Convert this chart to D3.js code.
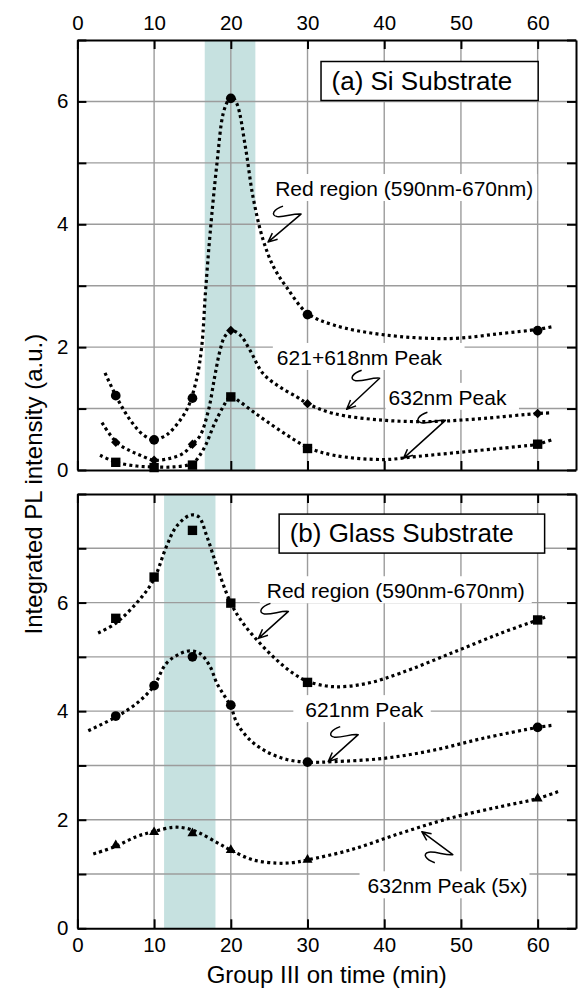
<!DOCTYPE html>
<html><head><meta charset="utf-8">
<script src="https://cdn.jsdelivr.net/npm/d3@7"></script>
<style>
body{margin:0;background:#fff}
text{font-family:"Liberation Sans",Arial,Helvetica,sans-serif;fill:#000}
</style>
</head><body>
<svg id="chart" width="578" height="991"></svg>
<script>
// ---------------- data ----------------
const times = [5, 10, 15, 20, 30, 60];
const xTicks = [0, 10, 20, 30, 40, 50, 60];

// (a) Si substrate
const siRed = [1.21, 0.49, 1.17, 6.05, 2.53, 2.27];
const si621 = [0.45, 0.16, 0.42, 2.27, 1.08, 0.92];
const si632 = [0.125, 0.04, 0.08, 1.19, 0.35, 0.42];
// (b) Glass substrate
const glRed = [5.71, 6.47, 7.33, 5.99, 4.53, 5.68];
const gl621 = [3.91, 4.47, 5.00, 4.11, 3.06, 3.70];
const gl632 = [1.53, 1.77, 1.75, 1.44, 1.26, 2.39];

// fitted guide curves
const siRedFitX = [3.6, 5.3, 6.9, 8.6, 10, 11.2, 12.1, 14.25, 15.5, 16.2, 16.7, 17.3, 18.2, 19.0, 19.7, 20.1, 20.8, 21.9, 22.9, 24.2, 25.6, 27.3, 30, 33.4, 40, 48.6, 55.1, 60, 61.8];
const siRedFitY = [1.58, 1.14, 0.81, 0.57, 0.49, 0.54, 0.62, 0.98, 1.46, 2.0, 2.9, 3.85, 5.0, 5.8, 6.03, 6.08, 5.96, 5.26, 4.44, 3.75, 3.3, 2.97, 2.55, 2.36, 2.20, 2.14, 2.22, 2.29, 2.33];
const si621FitX = [3.2, 5.1, 6.9, 8.2, 10, 12.1, 13.8, 15.0, 16.0, 17.1, 17.9, 18.6, 19.2, 20.07, 21.2, 22.5, 24.2, 26.4, 28.6, 30, 33.4, 39.9, 46.4, 52.9, 60, 61.6];
const si621FitY = [0.77, 0.45, 0.31, 0.24, 0.16, 0.19, 0.27, 0.42, 0.56, 0.98, 1.52, 1.95, 2.17, 2.27, 2.20, 1.95, 1.57, 1.35, 1.19, 1.08, 0.92, 0.81, 0.79, 0.84, 0.92, 0.93];
const si632FitX = [2.95, 5.1, 7.7, 10, 12.5, 15.0, 16.4, 17.9, 19.0, 19.7, 20.1, 21.2, 22.9, 24.7, 27.3, 30, 33.4, 39.9, 44.2, 50.8, 57.3, 60, 61.8];
const si632FitY = [0.24, 0.125, 0.065, 0.05, 0.05, 0.11, 0.33, 0.76, 1.03, 1.17, 1.20, 1.11, 0.95, 0.79, 0.57, 0.37, 0.24, 0.17, 0.22, 0.30, 0.38, 0.42, 0.49];
const glRedFitX = [2.7, 5.0, 7.7, 9.9, 11.6, 12.9, 14.7, 15.8, 16.9, 18.2, 20, 21.6, 23.8, 26, 28.1, 30, 33.4, 37.7, 42.1, 48.6, 55.1, 60, 61.2];
const glRedFitY = [5.44, 5.62, 5.99, 6.41, 7.03, 7.40, 7.61, 7.58, 7.21, 6.66, 5.99, 5.62, 5.25, 4.94, 4.70, 4.55, 4.45, 4.51, 4.70, 5.06, 5.43, 5.68, 5.74];
const gl621FitX = [1.42, 5, 7.7, 9.9, 11.6, 13.4, 14.7, 16.0, 17.3, 18.2, 20, 20.8, 22.5, 24.7, 27.3, 30, 33.4, 39.9, 46.4, 52.9, 60, 62.0];
const gl621FitY = [3.64, 3.89, 4.14, 4.45, 4.88, 5.06, 5.11, 5.06, 4.82, 4.51, 4.08, 3.78, 3.47, 3.25, 3.11, 3.06, 3.07, 3.13, 3.28, 3.50, 3.70, 3.74];
const gl632FitX = [2.07, 5, 7.7, 9.9, 12.5, 14.25, 16.0, 18.2, 20, 22.9, 26, 28.1, 30, 35.5, 42.1, 48.6, 55.1, 60, 62.7];
const gl632FitY = [1.37, 1.51, 1.69, 1.78, 1.86, 1.84, 1.75, 1.58, 1.44, 1.26, 1.20, 1.21, 1.26, 1.44, 1.75, 2.03, 2.24, 2.39, 2.52];

// highlighted time windows
const bandA = [16.6, 23.2];
const bandB = [11.3, 18.0];

// labels
const titleA = "(a) Si Substrate";
const titleB = "(b) Glass Substrate";
const xTitle = "Group III on time (min)";
const yTitle = "Integrated PL intensity (a.u.)";
const annoTextA = ["Red region (590nm-670nm)", "621+618nm Peak", "632nm Peak"];
const annoTextB = ["Red region (590nm-670nm)", "621nm Peak", "632nm Peak (5x)"];

// ---------------- layout ----------------
const svg = d3.select("#chart");
const FONT = '"Liberation Sans", Arial, Helvetica, sans-serif';
const x = d3.scaleLinear().domain([0, 65]).range([77.4, 576]);
const yA = d3.scaleLinear().domain([0, 7]).range([470, 40]);
const yB = d3.scaleLinear().domain([0, 8]).range([928.3, 494]);

const sym = {
  circle: d3.symbol().type(d3.symbolCircle).size(74),
  square: d3.symbol().type(d3.symbolSquare).size(88),
  diamond: d3.symbol().type(d3.symbolSquare).size(44),
  triangle: d3.symbol().type(d3.symbolTriangle).size(44)
};

function drawPanel(cfg) {
  const y = cfg.y;
  const g = svg.append("g");
  const [x0, x1] = x.range();
  const [yb, yt] = y.range();
  const gBand = g.append("g"), gGrid = g.append("g"), gBg = g.append("g"),
        gCurve = g.append("g"), gMark = g.append("g"), gAnno = g.append("g"), gAxis = g.append("g");

  // band
  gBand.append("rect")
    .attr("x", x(cfg.band[0])).attr("width", x(cfg.band[1]) - x(cfg.band[0]))
    .attr("y", yt).attr("height", yb - yt).attr("fill", "#c6e1e0");

  // grid
  const yMax = y.domain()[1];
  gGrid.selectAll("line.v").data(xTicks.slice(1)).join("line")
    .attr("x1", d => x(d)).attr("x2", d => x(d)).attr("y1", yt).attr("y2", yb)
    .attr("stroke", "#9c9c9c").attr("stroke-width", 1.4);
  gGrid.selectAll("line.h").data(d3.range(1, yMax)).join("line")
    .attr("y1", d => y(d)).attr("y2", d => y(d)).attr("x1", x0).attr("x2", x1)
    .attr("stroke", "#9c9c9c").attr("stroke-width", 1.4);

  // curves
  const line = d3.line().x(d => x(d[0])).y(d => y(d[1])).curve(d3.curveCatmullRom.alpha(0.5));
  cfg.series.forEach(s => {
    const pts = d3.zip(s.fx, s.fy);
    gCurve.append("path").attr("d", line(pts)).attr("fill", "none")
      .attr("stroke", "#000").attr("stroke-width", 3.2).attr("stroke-dasharray", "3,3.2");
    gMark.selectAll(null).data(d3.zip(times, s.v)).join("path")
      .attr("d", sym[s.shape])
      .attr("transform", d => `translate(${x(d[0])},${y(d[1])})` + (s.shape === "diamond" ? " rotate(45)" : ""))
      .attr("fill", "#000");
  });

  // annotations
  cfg.annos.forEach(a => {
    const t = gAnno.append("text").attr("x", x(a.x)).attr("y", y(a.y))
      .attr("text-anchor", "middle").attr("font-size", 21).attr("font-family", FONT).text(a.text);
    const bb = t.node().getBBox();
    gBg.append("rect").attr("x", bb.x - a.pl).attr("y", bb.y - 3)
      .attr("width", bb.width + a.pl + a.pr).attr("height", bb.height + 4).attr("fill", "#fff");
    const tip = [x(a.tx), y(a.ty)];
    const R = [tip[0] + a.rx, tip[1] + a.ry];
    const s = a.flip ? -1 : 1;
    const p = d3.path();
    p.moveTo(R[0] - 18, R[1] - 8 * s);
    p.bezierCurveTo(R[0] - 27, R[1] - 5 * s, R[0] - 31, R[1] + 1 * s, R[0] - 24, R[1] + 2.5 * s);
    p.bezierCurveTo(R[0] - 17, R[1] + 3.5 * s, R[0] - 7, R[1] - 1 * s, R[0], R[1]);
    p.lineTo(tip[0], tip[1]);
    const th = Math.atan2(R[1] - tip[1], R[0] - tip[0]);
    p.moveTo(tip[0] + 10 * Math.cos(th + 0.42), tip[1] + 10 * Math.sin(th + 0.42));
    p.lineTo(tip[0], tip[1]);
    p.lineTo(tip[0] + 10 * Math.cos(th - 0.42), tip[1] + 10 * Math.sin(th - 0.42));
    gAnno.append("path").attr("d", p.toString()).attr("fill", "none")
      .attr("stroke", "#000").attr("stroke-width", 1.5).attr("stroke-linejoin", "round");
  });

  // title box
  const tb = gAnno.append("text").attr("x", x(cfg.title.x) + 10.5).attr("y", y(cfg.title.y) + 28.3)
    .attr("font-size", 26).attr("font-family", FONT).text(cfg.title.text);
  const b = tb.node().getBBox();
  gAnno.insert("rect", "text").attr("x", x(cfg.title.x)).attr("y", y(cfg.title.y))
    .attr("width", b.width + 10.5 + cfg.title.pr).attr("height", 39)
    .attr("fill", "#fff").attr("stroke", "#000").attr("stroke-width", 1.5);

  // axes
  const styleAxis = sel => {
    sel.select(".domain").attr("stroke", "#000").attr("stroke-width", 2);
    sel.selectAll(".tick line").attr("stroke", "#000").attr("stroke-width", 2);
    sel.selectAll(".tick text").attr("font-size", 20.5).attr("font-family", FONT).attr("fill", "#000");
  };
  const yVals = d3.range(0, yMax + 1);
  const yLab = d => (d % 2 === 0 && d < yMax) ? d : "";
  gAxis.append("g").attr("transform", `translate(${x0},0)`)
    .call(d3.axisLeft(y).tickValues(yVals).tickSize(-9).tickSizeOuter(0).tickPadding(9).tickFormat(yLab)).call(styleAxis);
  gAxis.append("g").attr("transform", `translate(${x1},0)`)
    .call(d3.axisRight(y).tickValues(yVals).tickSize(-9).tickSizeOuter(0).tickFormat("")).call(styleAxis);
  gAxis.append("g").attr("transform", `translate(0,${yt})`)
    .call(d3.axisTop(x).tickValues(xTicks).tickSize(-9).tickSizeOuter(0).tickPadding(10)
      .tickFormat(cfg.topLabels ? d3.format("d") : "")).call(styleAxis);
  gAxis.append("g").attr("transform", `translate(0,${yb})`)
    .call(d3.axisBottom(x).tickValues(xTicks).tickSize(-9).tickSizeOuter(0).tickPadding(9)
      .tickFormat(cfg.bottomLabels ? d3.format("d") : "")).call(styleAxis);
}

drawPanel({
  y: yA, band: bandA, topLabels: true, bottomLabels: false,
  title: { text: titleA, x: 31.76, y: 6.65, pr: 26 },
  series: [
    { v: siRed, fx: siRedFitX, fy: siRedFitY, shape: "circle" },
    { v: si621, fx: si621FitX, fy: si621FitY, shape: "diamond" },
    { v: si632, fx: si632FitX, fy: si632FitY, shape: "square" }
  ],
  annos: [
    { text: annoTextA[0], x: 42.6, y: 4.46, tx: 24.85, ty: 3.71, rx: 33, ry: -28, pl: 4, pr: 4 },
    { text: annoTextA[1], x: 36.77, y: 1.71, tx: 35.1, ty: 0.99, rx: 33, ry: -31, pl: 4, pr: 22 },
    { text: annoTextA[2], x: 48.25, y: 1.06, tx: 42.5, ty: 0.19, rx: 42, ry: -38, pl: 3, pr: 12 }
  ]
});

drawPanel({
  y: yB, band: bandB, topLabels: false, bottomLabels: true,
  title: { text: titleB, x: 26.3, y: 7.63, pr: 31 },
  series: [
    { v: glRed, fx: glRedFitX, fy: glRedFitY, shape: "square" },
    { v: gl621, fx: gl621FitX, fy: gl621FitY, shape: "circle" },
    { v: gl632, fx: gl632FitX, fy: gl632FitY, shape: "triangle" }
  ],
  annos: [
    { text: annoTextB[0], x: 41.5, y: 6.08, tx: 23.6, ty: 5.34, rx: 30, ry: -27, pl: 7, pr: 7 },
    { text: annoTextB[1], x: 37.4, y: 3.89, tx: 32.7, ty: 3.07, rx: 30, ry: -27, pl: 12, pr: 7 },
    { text: annoTextB[2], x: 48.25, y: 0.645, tx: 44.9, ty: 1.78, rx: 31, ry: 23, flip: true, pl: 8, pr: 2 }
  ]
});

// axis titles
svg.append("text").attr("x", (x.range()[0] + x.range()[1]) / 2).attr("y", 983)
  .attr("text-anchor", "middle").attr("font-size", 24).attr("font-family", FONT).text(xTitle);
svg.append("text").attr("transform", `translate(41.5,${(yA.range()[1] + yB.range()[0]) / 2}) rotate(-90)`)
  .attr("text-anchor", "middle").attr("font-size", 24).attr("font-family", FONT).text(yTitle);
</script>
</body></html>
